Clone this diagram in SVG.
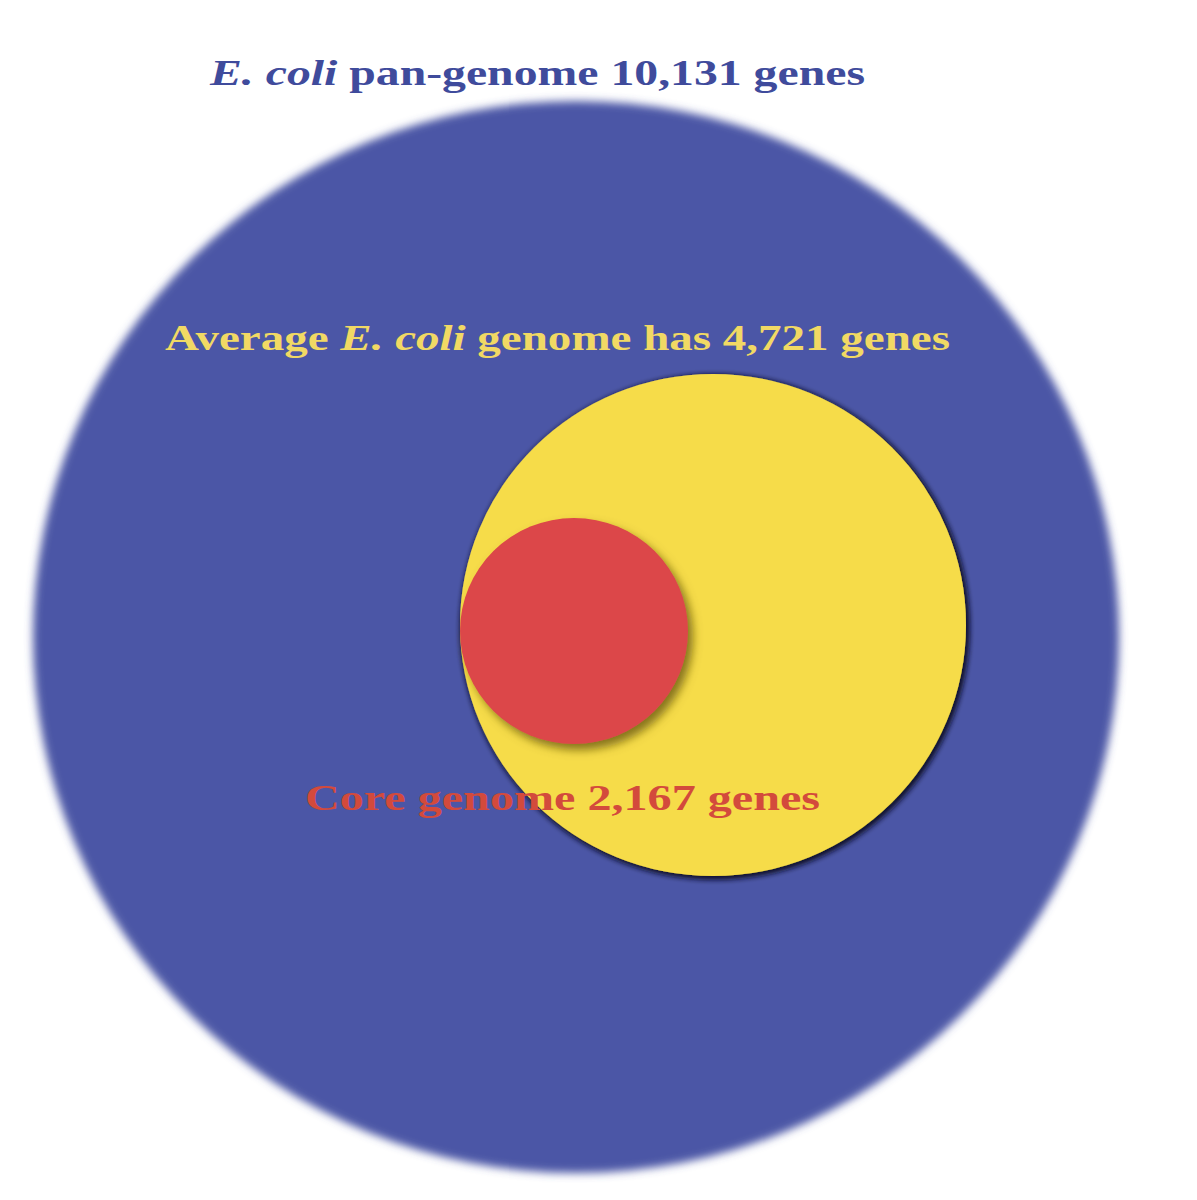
<svg xmlns="http://www.w3.org/2000/svg" width="1197" height="1200" viewBox="0 0 1197 1200">
<defs>
<filter id="soft" x="-10%" y="-10%" width="120%" height="120%"><feGaussianBlur stdDeviation="4"/></filter>
<filter id="shadow" x="-20%" y="-20%" width="140%" height="140%">
<feGaussianBlur in="SourceAlpha" stdDeviation="5" result="b"/>
<feOffset in="b" dx="5" dy="6" result="o"/>
<feFlood flood-color="#6b5a10" flood-opacity="0.8"/>
<feComposite in2="o" operator="in" result="s"/>
<feMerge><feMergeNode in="s"/><feMergeNode in="SourceGraphic"/></feMerge>
</filter>
<filter id="edge" x="-10%" y="-10%" width="120%" height="120%">
<feGaussianBlur in="SourceAlpha" stdDeviation="3" result="b"/>
<feOffset in="b" dx="2" dy="2" result="o"/>
<feFlood flood-color="#15172e" flood-opacity="1"/>
<feComposite in2="o" operator="in" result="s"/>
<feMerge><feMergeNode in="s"/><feMergeNode in="s"/><feMergeNode in="SourceGraphic"/></feMerge>
</filter>
</defs>
<style>
text{font-family:"Liberation Serif","DejaVu Serif",serif;font-weight:bold;font-size:36px}
</style>
<rect width="1197" height="1200" fill="#ffffff"/>
<g id="pan-genome">
<ellipse cx="576" cy="637" rx="543" ry="536" fill="#4b56a6" filter="url(#soft)"/>
<text x="210" y="85" fill="#3f4b9c" textLength="655" lengthAdjust="spacingAndGlyphs"><tspan font-style="italic">E. coli</tspan> pan-genome 10,131 genes</text>
</g>
<g id="average-genome">
<ellipse cx="713" cy="625" rx="253" ry="251" fill="#f6dc48" filter="url(#edge)"/>
<text x="165" y="350" fill="#f1d964" textLength="785" lengthAdjust="spacingAndGlyphs">Average <tspan font-style="italic">E. coli</tspan> genome has 4,721 genes</text>
</g>
<g id="core-genome">
<ellipse cx="574" cy="631" rx="114" ry="113" fill="#dc4748" filter="url(#shadow)"/>
<text x="305" y="810" fill="#d34a3c" textLength="515" lengthAdjust="spacingAndGlyphs">Core genome 2,167 genes</text>
</g>
<g id="connectors"/>
</svg>
